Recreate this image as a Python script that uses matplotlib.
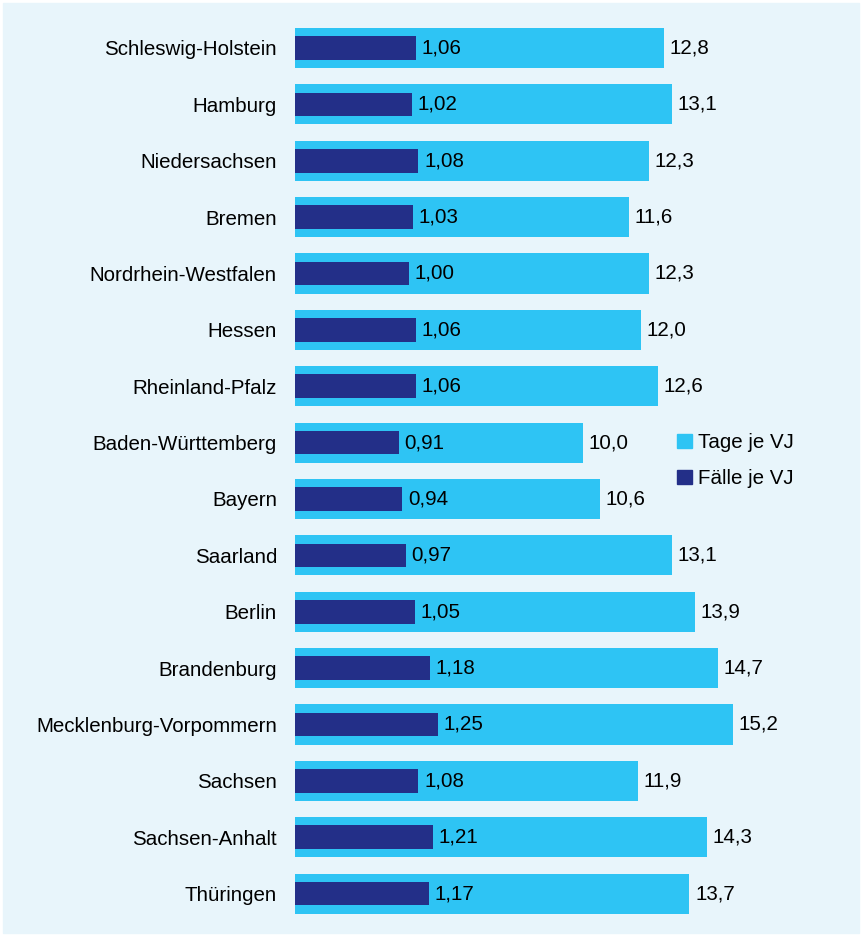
import matplotlib
matplotlib.use("Agg")
import matplotlib.pyplot as plt
from matplotlib.patches import Rectangle, Patch

plt.rcParams['font.family'] = ['Liberation Sans', 'DejaVu Sans']

laender = ['Schleswig-Holstein', 'Hamburg', 'Niedersachsen', 'Bremen',
           'Nordrhein-Westfalen', 'Hessen', 'Rheinland-Pfalz',
           'Baden-Württemberg', 'Bayern', 'Saarland', 'Berlin',
           'Brandenburg', 'Mecklenburg-Vorpommern', 'Sachsen',
           'Sachsen-Anhalt', 'Thüringen']
tage = [12.8, 13.1, 12.3, 11.6, 12.3, 12.0, 12.6, 10.0, 10.6, 13.1, 13.9,
        14.7, 15.2, 11.9, 14.3, 13.7]
faelle = [1.06, 1.02, 1.08, 1.03, 1.00, 1.06, 1.06, 0.91, 0.94, 0.97, 1.05,
          1.18, 1.25, 1.08, 1.21, 1.17]

hell = '#2ec4f4'
dunkel = '#232f88'
hintergrund = '#e8f5fb'
fs = 14.8

fig = plt.figure(figsize=(8.62, 9.36), dpi=100, facecolor='white')
fig.patches.append(Rectangle((3/862, 3/936), 856/862, 930/936,
                             transform=fig.transFigure, color=hintergrund,
                             zorder=-10))

ax = fig.add_axes([295/862, 14.2/936, 560/862, 902/936])
ax.set_facecolor('none')
ymax = 19.45
ax.set_xlim(0, ymax)
ax.set_ylim(len(laender) - 0.5, -0.5)
y = list(range(len(laender)))

ax.barh(y, tage, height=0.71, color=hell, zorder=1)
for yi, v in zip(y, tage):
    ax.annotate(f'{v:.1f}'.replace('.', ','), (v, yi), xytext=(4, 0),
                textcoords='offset points', va='center', ha='left',
                fontsize=fs)

ax2 = ax.twiny()
ax2.set_xlim(0, ymax / 3.97)
ax2.barh(y, faelle, height=0.42, color=dunkel, zorder=2)
for yi, v in zip(y, faelle):
    ax2.annotate(f'{v:.2f}'.replace('.', ','), (v, yi), xytext=(4, 0),
                 textcoords='offset points', va='center', ha='left',
                 fontsize=fs)

ax.set_yticks(y)
ax.set_yticklabels(laender, fontsize=fs)
ax.tick_params(axis='y', length=0, pad=13)
ax.set_xticks([])
ax2.set_xticks([])
for a in (ax, ax2):
    for s in a.spines.values():
        s.set_visible(False)

handles = [Patch(color=hell, label='Tage je VJ'),
           Patch(color=dunkel, label='Fälle je VJ')]
fig.legend(handles=handles, loc='upper left',
           bbox_to_anchor=(659/862, 1 - 415/936), frameon=False,
           fontsize=fs, handlelength=0.7, handleheight=0.7,
           handletextpad=0.3, labelspacing=0.8)

fig.savefig('out.png', dpi=100)
